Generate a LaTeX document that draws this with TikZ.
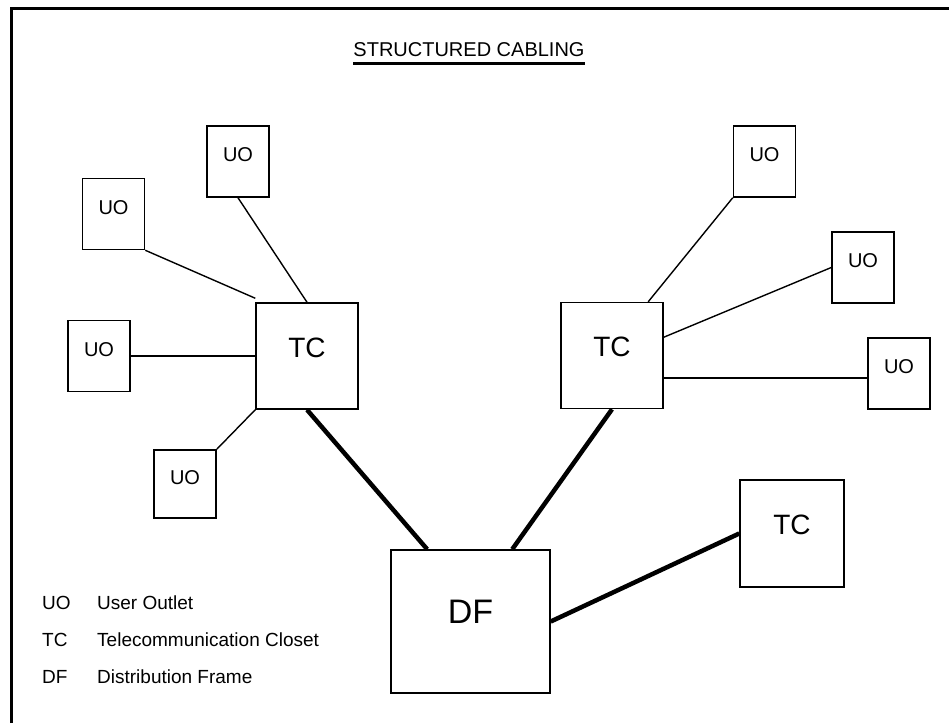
\documentclass[tikz,border=0pt]{standalone}
\usepackage{fontspec}
\setmainfont{Liberation Sans}
\usetikzlibrary{calc}
\begin{document}
\begin{tikzpicture}[x=1pt,y=-1pt,
  box/.style={draw, line width=1.5pt, rectangle, inner sep=0pt},
  uobox/.style={box, minimum width=62pt, minimum height=71pt, font=\fontsize{20}{20}\selectfont, text height=14pt, text depth=14pt},
  tcbox/.style={box, minimum width=102pt, minimum height=106pt, font=\fontsize{28}{28}\selectfont, text height=20pt, text depth=18pt},
  dfbox/.style={box, minimum width=159pt, minimum height=143pt, font=\fontsize{34}{34}\selectfont, text height=25pt, text depth=22pt},
  cable/.style={line width=1.4pt},
  trunk/.style={line width=4.5pt},
  frameline/.style={line width=3pt},
  legtext/.style={anchor=base west, inner sep=0pt, font=\fontsize{19}{19}\selectfont}
]
\useasboundingbox (0,0) rectangle (949,723);
\fill[white] (0,0) rectangle (949,723);

% frame
\draw[frameline] (11,723) -- (11,8) -- (949,8);

% title
\node[anchor=base, inner sep=0pt, font=\fontsize{20}{20}\selectfont] (title) at (469,56) {STRUCTURED CABLING};
\draw[line width=3.2pt] ([yshift=-7.5pt]title.base west) -- ([yshift=-7.5pt]title.base east);

% nodes
\node[tcbox] (tc1) at (307,356) {TC};
\node[tcbox] (tc2) at (612,355.5) {TC};
\node[tcbox, minimum width=104pt, minimum height=107pt] (tc3) at (792,533.5) {TC};
\node[dfbox] (df) at (470.5,621.5) {DF};

\node[uobox] (ua) at (238,161.5) {UO};
\node[uobox] (ub) at (113.5,214) {UO};
\node[uobox] (uc) at (99,356) {UO};
\node[uobox, minimum height=68pt] (ud) at (185,484) {UO};
\node[uobox] (ue) at (764.5,161.5) {UO};
\node[uobox] (uf) at (863,267.5) {UO};
\node[uobox] (ug) at (899,373.5) {UO};

% left cluster
\draw[cable] (ua.south) -- (tc1.north);
\draw[cable] (ub.south east) -- ([yshift=4pt]tc1.north west);
\draw[cable] (uc.east) -- (uc.east -| tc1.west);
\draw[cable] (tc1.south west) -- (ud.north east);

% right cluster
\coordinate (t2a) at ($(tc2.north east)!0.15!(tc2.north west)$);
\coordinate (t2b) at ($(tc2.north east)!0.33!(tc2.south east)$);
\coordinate (t2c) at ($(tc2.north east)!0.71!(tc2.south east)$);
\draw[cable] (ue.south west) -- (t2a);
\draw[cable] (uf.west) -- (t2b);
\draw[cable] (t2c) -- (t2c -| ug.west);

% trunks
\coordinate (dfa) at ($(df.north west)!0.23!(df.north east)$);
\coordinate (dfb) at ($(df.north west)!0.76!(df.north east)$);
\draw[trunk] (tc1.south) -- (dfa);
\draw[trunk] (tc2.south) -- (dfb);
\draw[trunk] (df.east) -- (tc3.west);

% legend
\node[legtext] (k1) at (42,609) {UO};
\node[legtext] (d1) at (97,609) {User Outlet};
\node[legtext] (k2) at (42,646) {TC};
\node[legtext] (d2) at (97,646) {Telecommunication Closet};
\node[legtext] (k3) at (42,683) {DF};
\node[legtext] (d3) at (97,683) {Distribution Frame};
\end{tikzpicture}
\end{document}
